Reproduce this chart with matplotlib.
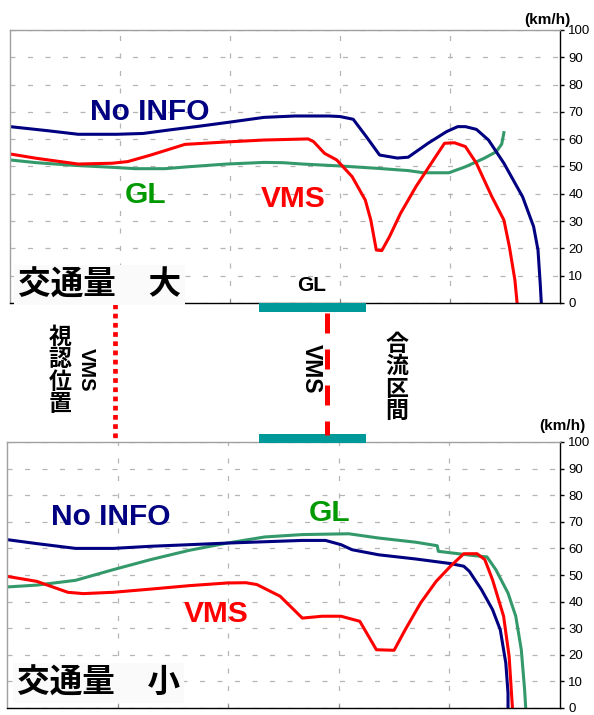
import matplotlib
matplotlib.use('Agg')
import matplotlib.pyplot as plt
from matplotlib import transforms
from matplotlib.patches import Rectangle
from matplotlib.lines import Line2D

# ---------------- data ----------------
yticks = [0, 10, 20, 30, 40, 50, 60, 70, 80, 90, 100]
xgrid = [1, 2, 3, 4]

# 交通量 大 (upper chart)
top_noinfo_x = [0, 0.345, 0.62, 0.97, 1.21, 1.45, 1.69, 1.97, 2.31, 2.59, 2.90, 3.00, 3.12, 3.24,
                3.36, 3.52, 3.62, 3.80, 3.97, 4.07, 4.14, 4.24, 4.35, 4.49, 4.66, 4.76, 4.80, 4.82, 4.83]
top_noinfo_y = [64.6, 63.1, 61.8, 61.8, 62.1, 63.4, 64.6, 66.1, 68.0, 68.5, 68.5, 68.3, 67.3, 60.9,
                54.2, 53.1, 53.4, 58.5, 62.8, 64.6, 64.6, 63.6, 59.7, 51.2, 38.9, 28.0, 19.4, 7.2, 0]

top_vms_x = [0, 0.24, 0.62, 0.93, 1.07, 1.28, 1.59, 1.97, 2.31, 2.71, 2.76, 2.86, 2.97, 3.11, 3.23,
             3.28, 3.33, 3.38, 3.45, 3.55, 3.69, 3.83, 3.95, 4.04, 4.14, 4.24, 4.38, 4.49, 4.54, 4.59, 4.61]
top_vms_y = [54.6, 53.0, 50.9, 51.2, 51.8, 54.2, 58.1, 59.0, 59.7, 60.1, 59.1, 54.8, 52.4, 46.3, 37.7,
             30.4, 19.4, 19.2, 24.3, 32.8, 42.6, 51.2, 58.5, 58.7, 57.3, 51.2, 39.0, 30.4, 20.6, 8.4, 0]

top_gl_x = [0, 0.24, 0.59, 0.93, 1.14, 1.41, 1.62, 1.97, 2.31, 2.48, 2.66, 3.00, 3.35, 3.62, 3.76,
            3.99, 4.14, 4.31, 4.42, 4.47, 4.49]
top_gl_y = [52.4, 51.4, 50.4, 49.7, 49.2, 49.2, 49.9, 50.9, 51.5, 51.4, 50.9, 50.2, 49.3, 48.5, 47.7,
            47.7, 49.9, 53.0, 55.4, 58.2, 62.4]

# 交通量 小 (lower chart)
bot_noinfo_x = [0, 0.27, 0.62, 0.96, 1.30, 1.65, 1.99, 2.33, 2.67, 2.88, 3.02, 3.12, 3.36, 3.70,
                4.01, 4.13, 4.18, 4.29, 4.39, 4.46, 4.51, 4.53, 4.53]
bot_noinfo_y = [63.3, 61.8, 60.0, 60.0, 60.8, 61.4, 62.0, 62.5, 63.0, 63.0, 61.4, 59.5, 57.6, 56.0,
                54.3, 53.3, 51.4, 44.5, 37.0, 29.4, 16.9, 5.6, 0]

bot_vms_x = [0, 0.27, 0.55, 0.69, 0.96, 1.30, 1.65, 1.99, 2.16, 2.26, 2.47, 2.67, 2.85, 3.02, 3.19,
             3.34, 3.50, 3.60, 3.74, 3.88, 4.01, 4.13, 4.25, 4.32, 4.39, 4.49, 4.54, 4.57]
bot_vms_y = [49.5, 47.6, 43.5, 43.0, 43.5, 44.7, 46.0, 47.0, 47.1, 46.4, 42.0, 33.8, 34.5, 34.5, 32.6,
             21.9, 21.7, 29.4, 39.5, 47.6, 53.3, 58.0, 58.0, 55.8, 48.2, 34.5, 19.4, 0]

bot_gl_x = [0, 0.27, 0.62, 0.96, 1.30, 1.65, 1.99, 2.33, 2.67, 3.09, 3.36, 3.70, 3.89, 3.90, 4.22,
            4.34, 4.42, 4.53, 4.60, 4.65, 4.68, 4.69]
bot_gl_y = [45.5, 46.2, 48.0, 52.0, 55.8, 59.3, 62.0, 64.3, 65.2, 65.5, 63.9, 62.3, 61.0, 58.9, 57.3,
            56.8, 52.0, 43.2, 34.5, 21.9, 6.9, 0]

# road positions (same x units as the charts)
vms_sight_x = 0.955
vms_x = 2.886
gl_start, gl_end = 2.264, 3.236

# ---------------- style ----------------
W, H, DPI = 594, 715, 100
NAVY, RED, GREEN_LINE, GREEN_TXT, TEAL = '#000080', '#ff0000', '#33996a', '#009900', '#009999'
LAT = 'Liberation Sans'
CJK = ['Noto Sans CJK JP', 'DejaVu Sans']

fig = plt.figure(figsize=(W / DPI, H / DPI), dpi=DPI)
fig.patch.set_facecolor('white')


def box(l, t, r, b):
    return [l / W, 1 - b / H, (r - l) / W, (b - t) / H]


def fx(px):
    return px / W


def fy(py):
    return 1 - py / H


ax1 = fig.add_axes(box(10, 30, 560, 303))
ax2 = fig.add_axes(box(7, 442, 560, 708))

for ax in (ax1, ax2):
    ax.set_xlim(0, 5)
    ax.set_ylim(0, 100)
    ax.set_xticks(xgrid)
    ax.set_yticks(yticks)
    ax.yaxis.tick_right()
    ax.tick_params(axis='y', direction='out', length=3, width=1, color='black', pad=3,
                   labelsize=9.5, labelcolor='black')
    ax.tick_params(axis='x', direction='in', length=3, width=0.8, color='#888888',
                   labelbottom=False)
    for lab in ax.get_yticklabels():
        lab.set_fontfamily(LAT)
    ax.grid(True, color='#b5b5b5', linestyle=(0, (4, 10)), linewidth=0.9)
    ax.set_axisbelow(True)
    ax.spines['top'].set_color('#a0a0a0')
    ax.spines['left'].set_color('#a0a0a0')
    ax.spines['right'].set_color('black')
    ax.spines['bottom'].set_color('black')
    for s in ax.spines.values():
        s.set_linewidth(1.0)

LW = 2.2
ax1.plot(top_gl_x, top_gl_y, color=GREEN_LINE, lw=LW, solid_joinstyle='round')
ax1.plot(top_vms_x, top_vms_y, color=RED, lw=LW, solid_joinstyle='round')
ax1.plot(top_noinfo_x, top_noinfo_y, color=NAVY, lw=LW, solid_joinstyle='round')

ax2.plot(bot_gl_x, bot_gl_y, color=GREEN_LINE, lw=LW, solid_joinstyle='round')
ax2.plot(bot_noinfo_x, bot_noinfo_y, color=NAVY, lw=LW, solid_joinstyle='round')
ax2.plot(bot_vms_x, bot_vms_y, color=RED, lw=LW, solid_joinstyle='round')

# unit labels
fig.text(fx(547), fy(20), '(km/h)', ha='center', va='center', fontsize=11, fontweight='bold',
         family=LAT)
fig.text(fx(562), fy(426), '(km/h)', ha='center', va='center', fontsize=11, fontweight='bold',
         family=LAT)

# series labels (upper)
LBL = 21.5
fig.text(fx(90), fy(120), 'No INFO', color=NAVY, fontsize=LBL, fontweight='bold', family=LAT,
         va='baseline', ha='left')
fig.text(fx(125), fy(203), 'GL', color=GREEN_TXT, fontsize=LBL, fontweight='bold', family=LAT,
         va='baseline', ha='left')
fig.text(fx(261), fy(207), 'VMS', color=RED, fontsize=LBL, fontweight='bold', family=LAT,
         va='baseline', ha='left')
fig.text(fx(297), fy(291), 'GL', color='black', fontsize=15, fontweight='bold', family=LAT,
         va='baseline', ha='left')
fig.text(fx(18), fy(285), '交通量　大', color='black', fontsize=23.5, fontweight='bold', family=CJK,
         va='center', ha='left',
         bbox=dict(boxstyle='square,pad=0.12', facecolor='#fafafa', edgecolor='none'))

# series labels (lower)
fig.text(fx(51), fy(525), 'No INFO', color=NAVY, fontsize=LBL, fontweight='bold', family=LAT,
         va='baseline', ha='left')
fig.text(fx(309), fy(521), 'GL', color=GREEN_TXT, fontsize=LBL, fontweight='bold', family=LAT,
         va='baseline', ha='left')
fig.text(fx(184), fy(622), 'VMS', color=RED, fontsize=LBL, fontweight='bold', family=LAT,
         va='baseline', ha='left')
fig.text(fx(17), fy(683), '交通量　小', color='black', fontsize=23.5, fontweight='bold', family=CJK,
         va='center', ha='left',
         bbox=dict(boxstyle='square,pad=0.12', facecolor='#fafafa', edgecolor='none'))

# middle: road layout annotations
blend = transforms.blended_transform_factory(ax1.transData, fig.transFigure)
fig.add_artist(Line2D([vms_sight_x, vms_sight_x], [fy(304), fy(438)], transform=blend,
                      color=RED, lw=3.4, linestyle=(0, (1, 0.95)), solid_capstyle='butt',
                      dash_capstyle='butt'))
fig.add_artist(Line2D([vms_x, vms_x], [fy(313), fy(435)], transform=blend,
                      color=RED, lw=3.6, linestyle=(0, (4.0, 3.2)), dash_capstyle='butt'))
for top_px in (303, 434):
    fig.add_artist(Rectangle((gl_start, fy(top_px + 9)), gl_end - gl_start, 9 / H,
                             transform=blend, facecolor=TEAL, edgecolor='none'))

fig.text(fx(60), fy(371), '視\n認\n位\n置', ha='center', va='center', fontsize=16.5,
         fontweight='bold', family=CJK, linespacing=0.98)
fig.text(fx(86), fy(370), 'VMS', ha='center', va='center', fontsize=14.5, fontweight='bold',
         family=LAT, rotation=270)
fig.text(fx(311), fy(369), 'VMS', ha='center', va='center', fontsize=16.5, fontweight='bold',
         family=LAT, rotation=270)
fig.text(fx(397), fy(378), '合\n流\n区\n間', ha='center', va='center', fontsize=16.5,
         fontweight='bold', family=CJK, linespacing=0.98)

fig.savefig('out.png', dpi=DPI, facecolor='white')
